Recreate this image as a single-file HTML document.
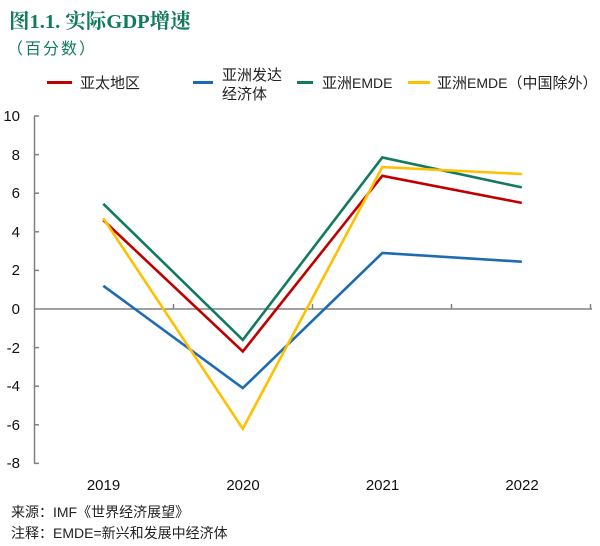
<!DOCTYPE html>
<html><head><meta charset="utf-8"><style>
html,body{margin:0;padding:0;background:#fff;}
svg{display:block;}
.cjk{font-family:"Liberation Sans","Noto Sans CJK SC",sans-serif;}
</style></head><body>
<svg width="600" height="546" viewBox="0 0 600 546" xmlns="http://www.w3.org/2000/svg">
<rect width="600" height="546" fill="#fff"/>
<text x="9" y="28" font-family="'Liberation Serif','Noto Serif CJK SC',serif" font-weight="bold" font-size="20.5" fill="#127a5f">图1.1. 实际GDP增速</text>
<text x="7" y="54" class="cjk" font-size="16" fill="#127a5f" letter-spacing="2">（百分数）</text>

<!-- legend -->
<g class="cjk" font-size="15" fill="#222">
<line x1="47" y1="82.5" x2="72" y2="82.5" stroke="#c00000" stroke-width="3"/>
<text x="80" y="88">亚太地区</text>
<line x1="193" y1="82.5" x2="213" y2="82.5" stroke="#1d6bb1" stroke-width="3"/>
<text x="222" y="80">亚洲发达</text>
<text x="222" y="99">经济体</text>
<line x1="297" y1="82.5" x2="313" y2="82.5" stroke="#117a5f" stroke-width="3"/>
<text x="322" y="88">亚洲<tspan font-size="14">EMDE</tspan></text>
<line x1="408" y1="82.5" x2="430" y2="82.5" stroke="#ffc000" stroke-width="3"/>
<text x="437" y="88">亚洲<tspan font-size="14">EMDE</tspan>（中国除外）</text>
</g>

<!-- axes -->
<g stroke="#808080" stroke-width="1.5" fill="none">
<line x1="34.5" y1="116" x2="34.5" y2="463.5"/>
<line x1="34" y1="309" x2="592" y2="309"/>
<line x1="34" y1="116.0" x2="39" y2="116.0"/>
<line x1="34" y1="154.6" x2="39" y2="154.6"/>
<line x1="34" y1="193.2" x2="39" y2="193.2"/>
<line x1="34" y1="231.8" x2="39" y2="231.8"/>
<line x1="34" y1="270.4" x2="39" y2="270.4"/>
<line x1="34" y1="347.6" x2="39" y2="347.6"/>
<line x1="34" y1="386.2" x2="39" y2="386.2"/>
<line x1="34" y1="424.8" x2="39" y2="424.8"/>
<line x1="34" y1="463.4" x2="39" y2="463.4"/>
<line x1="173.5" y1="309" x2="173.5" y2="304"/>
<line x1="312.5" y1="309" x2="312.5" y2="304"/>
<line x1="451.5" y1="309" x2="451.5" y2="304"/>
<line x1="590.5" y1="309" x2="590.5" y2="304"/>
</g>

<g font-family="'Liberation Sans',sans-serif" font-size="15" fill="#111" text-anchor="end">
<text x="20" y="121">10</text>
<text x="20" y="160">8</text>
<text x="20" y="198">6</text>
<text x="20" y="237">4</text>
<text x="20" y="275">2</text>
<text x="20" y="314">0</text>
<text x="20" y="353">-2</text>
<text x="20" y="391">-4</text>
<text x="20" y="430">-6</text>
<text x="20" y="468">-8</text>
</g>
<g font-family="'Liberation Sans',sans-serif" font-size="15" fill="#111" text-anchor="middle">
<text x="103.5" y="490">2019</text>
<text x="243" y="490">2020</text>
<text x="382.5" y="490">2021</text>
<text x="522" y="490">2022</text>
</g>

<!-- series -->
<g fill="none" stroke-width="2.6" stroke-linejoin="miter">
<polyline stroke="#c00000" points="103.3,220.2 242.8,351.5 382.3,175.8 521.8,202.9"/>
<polyline stroke="#1d6bb1" points="103.3,285.8 242.8,388.1 382.3,253.0 521.8,261.7"/>
<polyline stroke="#117a5f" points="103.3,203.8 242.8,339.9 382.3,157.5 521.8,187.4"/>
<polyline stroke="#ffc000" points="103.3,218.3 242.8,428.7 382.3,167.1 521.8,174.0"/>
</g>

<g class="cjk" font-size="14" fill="#222">
<text x="11" y="517">来源：IMF《世界经济展望》</text>
<text x="11" y="538">注释：EMDE=新兴和发展中经济体</text>
</g>
</svg>
</body></html>
